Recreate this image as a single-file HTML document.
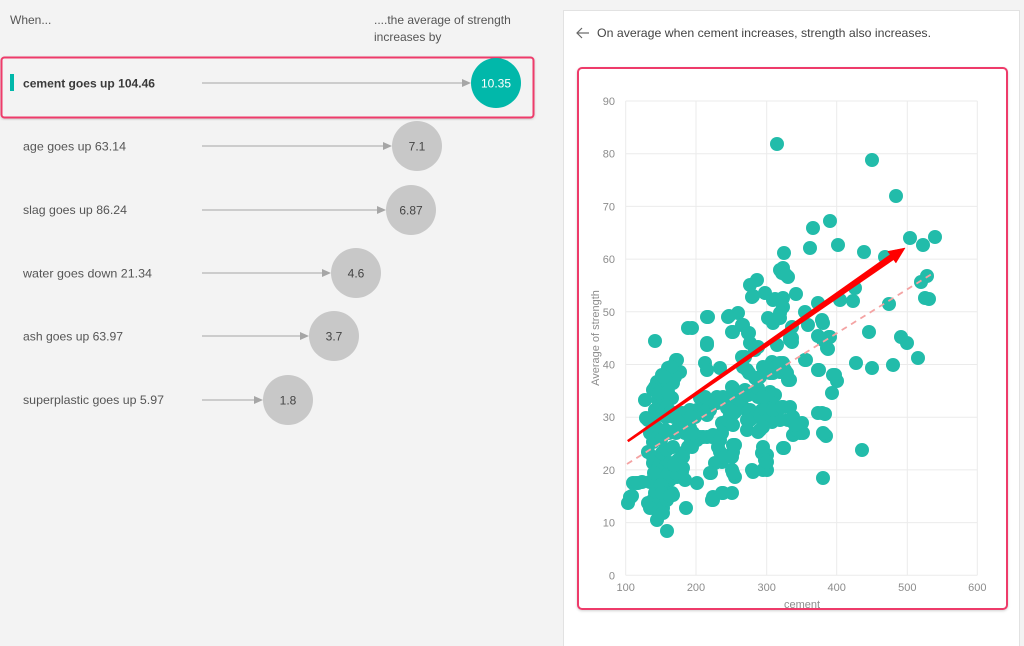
<!DOCTYPE html>
<html><head><meta charset="utf-8">
<style>
html,body{margin:0;padding:0;width:1024px;height:646px;overflow:hidden;background:#f3f3f3;}
svg{display:block;font-family:"Liberation Sans",Arial,sans-serif;}
</style></head>
<body>
<svg width="1024" height="646" viewBox="0 0 1024 646" xmlns="http://www.w3.org/2000/svg">
<defs>
<filter id="sh" x="-5%" y="-5%" width="110%" height="110%"><feDropShadow dx="0" dy="1" stdDeviation="1.2" flood-color="#000" flood-opacity="0.18"/></filter>
</defs>
<rect x="0" y="0" width="1024" height="646" fill="#f3f3f3"/>

<!-- LEFT PANEL -->
<text x="10" y="24" font-size="12" fill="#555">When...</text>
<text x="374" y="24" font-size="12" fill="#555">....the average of strength</text>
<text x="374" y="41" font-size="12" fill="#555">increases by</text>

<rect x="1.5" y="57.5" width="532" height="60" rx="3" fill="#f3f3f3" stroke="#ee3a6a" stroke-width="2" filter="url(#sh)"/>
<rect x="10" y="74" width="4" height="17" fill="#01b8aa"/>

<g font-size="12" fill="#555">
<text x="23" y="87.5" font-weight="bold" fill="#3a3a3a" textLength="132" lengthAdjust="spacingAndGlyphs">cement goes up 104.46</text>
<text x="23" y="150.5" textLength="103" lengthAdjust="spacingAndGlyphs">age goes up 63.14</text>
<text x="23" y="214" textLength="104" lengthAdjust="spacingAndGlyphs">slag goes up 86.24</text>
<text x="23" y="277.5" textLength="129" lengthAdjust="spacingAndGlyphs">water goes down 21.34</text>
<text x="23" y="340.5" textLength="100" lengthAdjust="spacingAndGlyphs">ash goes up 63.97</text>
<text x="23" y="404" textLength="141" lengthAdjust="spacingAndGlyphs">superplastic goes up 5.97</text>
</g>

<g stroke="#a6a6a6" stroke-width="1">
<line x1="202" y1="83" x2="463" y2="83"/>
<line x1="202" y1="146" x2="384" y2="146"/>
<line x1="202" y1="210" x2="378" y2="210"/>
<line x1="202" y1="273" x2="323" y2="273"/>
<line x1="202" y1="336" x2="301" y2="336"/>
<line x1="202" y1="400" x2="255" y2="400"/>
</g>
<g fill="#a6a6a6">
<polygon points="462,79 471,83 462,87"/>
<polygon points="383,142 392,146 383,150"/>
<polygon points="377,206 386,210 377,214"/>
<polygon points="322,269 331,273 322,277"/>
<polygon points="300,332 309,336 300,340"/>
<polygon points="254,396 263,400 254,404"/>
</g>

<circle cx="496" cy="83" r="25" fill="#01b8aa"/>
<circle cx="417" cy="146" r="25" fill="#c8c8c8"/>
<circle cx="411" cy="210" r="25" fill="#c8c8c8"/>
<circle cx="356" cy="273" r="25" fill="#c8c8c8"/>
<circle cx="334" cy="336" r="25" fill="#c8c8c8"/>
<circle cx="288" cy="400" r="25" fill="#c8c8c8"/>
<g font-size="12" text-anchor="middle" fill="#444">
<text x="496" y="87.5" fill="#fff">10.35</text>
<text x="417" y="150.5">7.1</text>
<text x="411" y="214.5">6.87</text>
<text x="356" y="277.5">4.6</text>
<text x="334" y="340.5">3.7</text>
<text x="288" y="404.5">1.8</text>
</g>

<!-- RIGHT CARD -->
<rect x="563.5" y="10.5" width="456" height="650" fill="#ffffff" stroke="#e2e2e2" stroke-width="1"/>
<g stroke="#666" stroke-width="1.2" fill="none">
<line x1="577" y1="33" x2="589" y2="33"/>
<polyline points="582,28 577,33 582,38"/>
</g>
<text x="597" y="37" font-size="12" fill="#444" textLength="334" lengthAdjust="spacingAndGlyphs">On average when cement increases, strength also increases.</text>

<rect x="578" y="68" width="429" height="541" rx="4" fill="#fff" stroke="#ee3a6a" stroke-width="2" filter="url(#sh)"/>

<!-- gridlines -->
<g stroke="#ebebeb" stroke-width="1">
<line x1="625.7" y1="101" x2="625.7" y2="575.3"/>
<line x1="696" y1="101" x2="696" y2="575.3"/>
<line x1="766.7" y1="101" x2="766.7" y2="575.3"/>
<line x1="836.7" y1="101" x2="836.7" y2="575.3"/>
<line x1="907.3" y1="101" x2="907.3" y2="575.3"/>
<line x1="977.3" y1="101" x2="977.3" y2="575.3"/>
<line x1="625.7" y1="101" x2="977.3" y2="101"/>
<line x1="625.7" y1="153.7" x2="977.3" y2="153.7"/>
<line x1="625.7" y1="206.4" x2="977.3" y2="206.4"/>
<line x1="625.7" y1="259.1" x2="977.3" y2="259.1"/>
<line x1="625.7" y1="311.8" x2="977.3" y2="311.8"/>
<line x1="625.7" y1="364.5" x2="977.3" y2="364.5"/>
<line x1="625.7" y1="417.2" x2="977.3" y2="417.2"/>
<line x1="625.7" y1="469.9" x2="977.3" y2="469.9"/>
<line x1="625.7" y1="522.6" x2="977.3" y2="522.6"/>
<line x1="625.7" y1="575.3" x2="977.3" y2="575.3"/>
</g>
<g font-size="11" fill="#8c8c8c" text-anchor="end">
<text x="615" y="105">90</text>
<text x="615" y="157.7">80</text>
<text x="615" y="210.4">70</text>
<text x="615" y="263.1">60</text>
<text x="615" y="315.8">50</text>
<text x="615" y="368.5">40</text>
<text x="615" y="421.2">30</text>
<text x="615" y="473.9">20</text>
<text x="615" y="526.6">10</text>
<text x="615" y="579.3">0</text>
</g>
<g font-size="11" fill="#8c8c8c" text-anchor="middle">
<text x="625.7" y="591">100</text>
<text x="696" y="591">200</text>
<text x="766.7" y="591">300</text>
<text x="836.7" y="591">400</text>
<text x="907.3" y="591">500</text>
<text x="977.3" y="591">600</text>
<text x="802" y="608">cement</text>
<text transform="translate(599,338) rotate(-90)" x="0" y="0">Average of strength</text>
</g>

<!-- scatter points -->
<g fill="#22bcaa">
<circle cx="777" cy="144" r="7"/><circle cx="872" cy="160" r="7"/><circle cx="896" cy="196" r="7"/>
<circle cx="830" cy="221" r="7"/><circle cx="813" cy="228" r="7"/><circle cx="810" cy="248" r="7"/><circle cx="838" cy="245" r="7"/><circle cx="864" cy="252" r="7"/><circle cx="885" cy="257" r="7"/><circle cx="910" cy="238" r="7"/><circle cx="923" cy="245" r="7"/><circle cx="935" cy="237" r="7"/>
<circle cx="784" cy="253" r="7"/><circle cx="783" cy="268" r="7"/><circle cx="782" cy="273" r="7"/><circle cx="788" cy="277" r="7"/>
<circle cx="757" cy="280" r="7"/><circle cx="750" cy="285" r="7"/><circle cx="753" cy="296" r="7"/><circle cx="765" cy="293" r="7"/><circle cx="796" cy="294" r="7"/><circle cx="775" cy="299" r="7"/><circle cx="783" cy="298" r="7"/><circle cx="783" cy="307" r="7"/><circle cx="780" cy="313" r="7"/><circle cx="768" cy="318" r="7"/>
<circle cx="708" cy="317" r="7"/><circle cx="729" cy="316" r="7"/><circle cx="738" cy="313" r="7"/>
<circle cx="818" cy="303" r="7"/><circle cx="805" cy="312" r="7"/><circle cx="840" cy="300" r="7"/><circle cx="853" cy="301" r="7"/><circle cx="855" cy="288" r="7"/><circle cx="822" cy="320" r="7"/>
<circle cx="927" cy="276" r="7"/><circle cx="921" cy="282" r="7"/><circle cx="925" cy="298" r="7"/><circle cx="929" cy="299" r="7"/><circle cx="889" cy="304" r="7"/>
<circle cx="808" cy="325" r="7"/><circle cx="823" cy="323" r="7"/><circle cx="818" cy="336" r="7"/><circle cx="829" cy="337" r="7"/><circle cx="828" cy="349" r="7"/><circle cx="823" cy="340" r="7"/>
<circle cx="869" cy="332" r="7"/><circle cx="901" cy="337" r="7"/><circle cx="907" cy="343" r="7"/><circle cx="918" cy="358" r="7"/><circle cx="856" cy="363" r="7"/><circle cx="872" cy="368" r="7"/><circle cx="893" cy="365" r="7"/>
<circle cx="806" cy="360" r="7"/><circle cx="819" cy="370" r="7"/><circle cx="835" cy="375" r="7"/><circle cx="837" cy="381" r="7"/><circle cx="832" cy="393" r="7"/>
<circle cx="822" cy="413" r="7"/><circle cx="825" cy="414" r="7"/><circle cx="824" cy="434" r="7"/><circle cx="826" cy="436" r="7"/><circle cx="862" cy="450" r="7"/><circle cx="823" cy="478" r="7"/>
<circle cx="780" cy="270" r="7"/><circle cx="786" cy="275" r="7"/>
<circle cx="792" cy="338" r="7"/><circle cx="792" cy="342" r="7"/>
<circle cx="783" cy="363" r="7"/><circle cx="787" cy="373" r="7"/><circle cx="790" cy="380" r="7"/>
<circle cx="783" cy="407" r="7"/><circle cx="790" cy="407" r="7"/><circle cx="788" cy="420" r="7"/><circle cx="798" cy="425" r="7"/><circle cx="800" cy="433" r="7"/><circle cx="793" cy="435" r="7"/><circle cx="783" cy="448" r="7"/>
<circle cx="752" cy="297" r="7"/><circle cx="742" cy="325" r="7"/><circle cx="749" cy="333" r="7"/><circle cx="732" cy="332" r="7"/><circle cx="692" cy="328" r="7"/><circle cx="707" cy="345" r="7"/><circle cx="750" cy="343" r="7"/><circle cx="758" cy="347" r="7"/><circle cx="777" cy="345" r="7"/><circle cx="790" cy="340" r="7"/><circle cx="792" cy="327" r="7"/>
<circle cx="827" cy="348" r="7"/><circle cx="830" cy="337" r="7"/>
<circle cx="742" cy="357" r="7"/><circle cx="743" cy="367" r="7"/><circle cx="749" cy="373" r="7"/><circle cx="705" cy="363" r="7"/><circle cx="707" cy="370" r="7"/><circle cx="720" cy="368" r="7"/><circle cx="763" cy="367" r="7"/><circle cx="772" cy="362" r="7"/><circle cx="778" cy="365" r="7"/><circle cx="780" cy="372" r="7"/><circle cx="760" cy="377" r="7"/><circle cx="770" cy="373" r="7"/><circle cx="805" cy="360" r="7"/><circle cx="818" cy="370" r="7"/><circle cx="833" cy="375" r="7"/>
<circle cx="732" cy="387" r="7"/><circle cx="740" cy="393" r="7"/><circle cx="753" cy="393" r="7"/><circle cx="758" cy="397" r="7"/><circle cx="770" cy="392" r="7"/><circle cx="775" cy="395" r="7"/><circle cx="772" cy="403" r="7"/><circle cx="767" cy="408" r="7"/>
<circle cx="723" cy="397" r="7"/><circle cx="717" cy="403" r="7"/><circle cx="710" cy="410" r="7"/><circle cx="705" cy="403" r="7"/><circle cx="697" cy="410" r="7"/><circle cx="692" cy="417" r="7"/><circle cx="733" cy="405" r="7"/><circle cx="743" cy="407" r="7"/><circle cx="748" cy="412" r="7"/><circle cx="750" cy="420" r="7"/><circle cx="730" cy="415" r="7"/><circle cx="722" cy="423" r="7"/><circle cx="725" cy="425" r="7"/>
<circle cx="762" cy="410" r="7"/><circle cx="767" cy="417" r="7"/><circle cx="772" cy="422" r="7"/><circle cx="760" cy="430" r="7"/><circle cx="780" cy="420" r="7"/><circle cx="802" cy="423" r="7"/><circle cx="797" cy="430" r="7"/><circle cx="803" cy="433" r="7"/><circle cx="818" cy="413" r="7"/><circle cx="823" cy="433" r="7"/>
<circle cx="697" cy="437" r="7"/><circle cx="703" cy="437" r="7"/><circle cx="712" cy="437" r="7"/><circle cx="718" cy="440" r="7"/><circle cx="722" cy="433" r="7"/><circle cx="735" cy="445" r="7"/><circle cx="733" cy="452" r="7"/><circle cx="692" cy="447" r="7"/><circle cx="763" cy="447" r="7"/><circle cx="767" cy="455" r="7"/><circle cx="762" cy="453" r="7"/><circle cx="784" cy="448" r="7"/>
<circle cx="720" cy="452" r="7"/><circle cx="722" cy="462" r="7"/><circle cx="715" cy="463" r="7"/><circle cx="765" cy="460" r="7"/><circle cx="767" cy="470" r="7"/><circle cx="752" cy="470" r="7"/><circle cx="732" cy="470" r="7"/><circle cx="735" cy="477" r="7"/><circle cx="710" cy="473" r="7"/><circle cx="697" cy="483" r="7"/>
<circle cx="722" cy="493" r="7"/><circle cx="732" cy="493" r="7"/><circle cx="713" cy="497" r="7"/>
<circle cx="655" cy="341" r="7"/><circle cx="688" cy="328" r="7"/><circle cx="707" cy="317" r="7"/><circle cx="728" cy="317" r="7"/><circle cx="733" cy="332" r="7"/><circle cx="743" cy="325" r="7"/><circle cx="748" cy="333" r="7"/><circle cx="773" cy="323" r="7"/><circle cx="780" cy="318" r="7"/><circle cx="782" cy="300" r="7"/><circle cx="773" cy="300" r="7"/>
<circle cx="707" cy="343" r="7"/><circle cx="745" cy="357" r="7"/><circle cx="755" cy="350" r="7"/><circle cx="747" cy="370" r="7"/><circle cx="755" cy="378" r="7"/><circle cx="767" cy="367" r="7"/><circle cx="773" cy="373" r="7"/><circle cx="780" cy="363" r="7"/><circle cx="785" cy="370" r="7"/><circle cx="788" cy="380" r="7"/><circle cx="790" cy="338" r="7"/>
<circle cx="677" cy="360" r="7"/><circle cx="680" cy="372" r="7"/><circle cx="668" cy="368" r="7"/><circle cx="670" cy="378" r="7"/><circle cx="662" cy="375" r="7"/><circle cx="657" cy="382" r="7"/><circle cx="655" cy="387" r="7"/><circle cx="653" cy="390" r="7"/><circle cx="665" cy="388" r="7"/><circle cx="673" cy="383" r="7"/><circle cx="675" cy="377" r="7"/><circle cx="667" cy="382" r="7"/>
<circle cx="645" cy="400" r="7"/><circle cx="658" cy="400" r="7"/><circle cx="660" cy="403" r="7"/><circle cx="655" cy="410" r="7"/><circle cx="665" cy="410" r="7"/><circle cx="672" cy="398" r="7"/><circle cx="667" cy="407" r="7"/>
<circle cx="648" cy="420" r="7"/><circle cx="653" cy="418" r="7"/><circle cx="662" cy="415" r="7"/><circle cx="657" cy="428" r="7"/><circle cx="650" cy="433" r="7"/><circle cx="658" cy="437" r="7"/><circle cx="665" cy="430" r="7"/><circle cx="672" cy="432" r="7"/>
<circle cx="682" cy="413" r="7"/><circle cx="690" cy="410" r="7"/><circle cx="685" cy="423" r="7"/><circle cx="680" cy="422" r="7"/><circle cx="678" cy="428" r="7"/><circle cx="695" cy="417" r="7"/><circle cx="690" cy="428" r="7"/>
<circle cx="700" cy="398" r="7"/><circle cx="705" cy="397" r="7"/><circle cx="707" cy="410" r="7"/><circle cx="707" cy="415" r="7"/>
<circle cx="717" cy="397" r="7"/><circle cx="715" cy="403" r="7"/><circle cx="720" cy="402" r="7"/><circle cx="725" cy="400" r="7"/><circle cx="732" cy="398" r="7"/><circle cx="733" cy="388" r="7"/>
<circle cx="727" cy="408" r="7"/><circle cx="728" cy="420" r="7"/><circle cx="732" cy="415" r="7"/><circle cx="733" cy="425" r="7"/>
<circle cx="735" cy="412" r="7"/><circle cx="740" cy="400" r="7"/><circle cx="745" cy="390" r="7"/><circle cx="748" cy="395" r="7"/><circle cx="757" cy="395" r="7"/><circle cx="758" cy="388" r="7"/><circle cx="763" cy="397" r="7"/>
<circle cx="750" cy="410" r="7"/><circle cx="755" cy="417" r="7"/><circle cx="760" cy="415" r="7"/><circle cx="765" cy="410" r="7"/><circle cx="768" cy="420" r="7"/><circle cx="773" cy="410" r="7"/><circle cx="782" cy="407" r="7"/><circle cx="793" cy="417" r="7"/><circle cx="795" cy="425" r="7"/>
<circle cx="747" cy="420" r="7"/><circle cx="747" cy="430" r="7"/><circle cx="758" cy="432" r="7"/><circle cx="763" cy="427" r="7"/>
<circle cx="685" cy="433" r="7"/><circle cx="690" cy="437" r="7"/><circle cx="697" cy="440" r="7"/><circle cx="700" cy="437" r="7"/><circle cx="693" cy="433" r="7"/>
<circle cx="653" cy="442" r="7"/><circle cx="683" cy="453" r="7"/><circle cx="688" cy="447" r="7"/><circle cx="678" cy="460" r="7"/><circle cx="672" cy="465" r="7"/>
<circle cx="707" cy="437" r="7"/><circle cx="713" cy="435" r="7"/><circle cx="720" cy="440" r="7"/><circle cx="718" cy="447" r="7"/><circle cx="725" cy="457" r="7"/>
<circle cx="733" cy="445" r="7"/><circle cx="732" cy="457" r="7"/><circle cx="733" cy="473" r="7"/>
<circle cx="753" cy="472" r="7"/><circle cx="763" cy="470" r="7"/><circle cx="767" cy="462" r="7"/>
<circle cx="648" cy="452" r="7"/><circle cx="653" cy="457" r="7"/><circle cx="660" cy="460" r="7"/><circle cx="653" cy="463" r="7"/><circle cx="658" cy="467" r="7"/><circle cx="665" cy="467" r="7"/><circle cx="662" cy="453" r="7"/><circle cx="667" cy="450" r="7"/><circle cx="670" cy="463" r="7"/>
<circle cx="633" cy="483" r="7"/><circle cx="642" cy="482" r="7"/><circle cx="650" cy="482" r="7"/><circle cx="655" cy="483" r="7"/><circle cx="660" cy="487" r="7"/><circle cx="665" cy="482" r="7"/><circle cx="670" cy="480" r="7"/><circle cx="677" cy="477" r="7"/><circle cx="682" cy="472" r="7"/><circle cx="685" cy="480" r="7"/>
<circle cx="657" cy="470" r="7"/><circle cx="667" cy="475" r="7"/><circle cx="663" cy="490" r="7"/><circle cx="672" cy="493" r="7"/><circle cx="660" cy="497" r="7"/><circle cx="655" cy="493" r="7"/><circle cx="653" cy="500" r="7"/><circle cx="648" cy="503" r="7"/><circle cx="650" cy="508" r="7"/><circle cx="658" cy="512" r="7"/><circle cx="663" cy="508" r="7"/><circle cx="667" cy="500" r="7"/>
<circle cx="630" cy="497" r="7"/><circle cx="628" cy="503" r="7"/><circle cx="657" cy="520" r="7"/><circle cx="667" cy="531" r="7"/><circle cx="686" cy="508" r="7"/><circle cx="711" cy="473" r="7"/><circle cx="713" cy="500" r="7"/>
<circle cx="676" cy="360" r="7"/><circle cx="671" cy="367" r="7"/><circle cx="664" cy="377" r="7"/><circle cx="659" cy="393" r="7"/><circle cx="668" cy="392" r="7"/>
<circle cx="688" cy="412" r="7"/><circle cx="691" cy="417" r="7"/><circle cx="674" cy="417" r="7"/><circle cx="671" cy="412" r="7"/><circle cx="666" cy="417" r="7"/><circle cx="646" cy="418" r="7"/>
<circle cx="661" cy="440" r="7"/><circle cx="669" cy="433" r="7"/><circle cx="673" cy="447" r="7"/><circle cx="676" cy="433" r="7"/>
<circle cx="654" cy="473" r="7"/><circle cx="666" cy="477" r="7"/><circle cx="676" cy="473" r="7"/><circle cx="683" cy="468" r="7"/><circle cx="674" cy="465" r="7"/><circle cx="683" cy="457" r="7"/>
<circle cx="636" cy="483" r="7"/><circle cx="661" cy="485" r="7"/><circle cx="669" cy="495" r="7"/>
<circle cx="631" cy="497" r="7"/><circle cx="663" cy="513" r="7"/><circle cx="673" cy="495" r="7"/>
<circle cx="632" cy="496" r="7"/><circle cx="662" cy="493" r="7"/><circle cx="670" cy="496" r="7"/><circle cx="712" cy="500" r="7"/><circle cx="723" cy="493" r="7"/><circle cx="638" cy="483" r="7"/>
</g>

<!-- trend line dashed -->
<line x1="627" y1="464" x2="935" y2="272" stroke="#f4a3a3" stroke-width="1.8" stroke-dasharray="6,5"/>

<!-- red arrow -->
<polygon points="627.4,440.2 890.2,254.6 887.9,251.4 905,248 895.9,262.8 893.6,259.6 628.6,441.8" fill="#ff0000" stroke="#ff0000" stroke-width="0.6" stroke-linejoin="round"/>
</svg>
</body></html>
